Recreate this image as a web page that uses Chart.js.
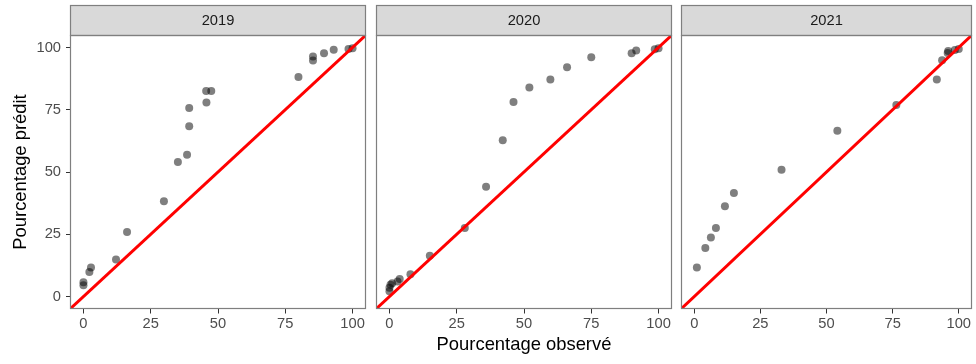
<!DOCTYPE html>
<html>
<head>
<meta charset="utf-8">
<script src="https://cdn.jsdelivr.net/npm/chart.js@4"></script>
<style>
html, body { margin: 0; padding: 0; background: #fff; }
#wrap { position: relative; width: 976px; height: 364px; overflow: hidden; }
canvas { position: absolute; left: 0; top: 0; }
</style>
</head>
<body>
<div id="wrap">
  <canvas id="p0" width="976" height="364"></canvas>
  <canvas id="p1" width="976" height="364"></canvas>
  <canvas id="p2" width="976" height="364"></canvas>
</div>
<script>
// facet labels
const years = ['2019', '2020', '2021'];

const obs2019  = [0, 0, 2.2, 2.8, 12.1, 16.2, 29.9, 35.1, 38.5, 39.3, 39.3, 45.7, 45.6, 47.5, 79.9, 85.3, 85.3, 89.4, 93, 98.5, 100];
const pred2019 = [5.7, 4.5, 9.9, 11.7, 14.9, 25.9, 38.3, 54, 56.9, 68.4, 75.7, 77.9, 82.5, 82.5, 88.1, 96.4, 94.8, 97.7, 99.1, 99.4, 99.7];

const obs2020  = [0, 0, 0.4, 1, 3, 3.8, 7.8, 15, 28, 35.9, 42.1, 46.1, 52, 59.8, 66, 75, 90, 91.7, 98.6, 100];
const pred2020 = [2.1, 3.5, 4.7, 5.3, 6, 7, 9, 16.4, 27.5, 44.1, 62.7, 78.1, 83.9, 87.1, 92.1, 96.1, 97.7, 98.8, 99.3, 99.7];

const obs2021  = [1, 4.2, 6.3, 8.2, 11.6, 15, 33, 54.1, 76.4, 91.7, 93.7, 95.8, 96, 98.5, 100];
const pred2021 = [11.7, 19.5, 23.7, 27.5, 36.3, 41.6, 50.9, 66.6, 76.9, 87.1, 94.9, 97.8, 98.6, 99, 99.4];

const xTicks = [0, 25, 50, 75, 100];
const yTicks = [0, 25, 50, 75, 100];
const axisRange = [-5, 105];   // also the ends of the y = x line

const series = [[obs2019, pred2019], [obs2020, pred2020], [obs2021, pred2021]];

// panel placement on the page
const panelLeft  = [70, 376, 681];
const panelRight = [366, 672, 977];
const FONT = "'Liberation Sans', Arial, sans-serif";

// grey strip on top + frame round the panel
const facetFrame = {
  id: 'facetFrame',
  afterDraw(chart, args, opts) {
    const { ctx, chartArea: a } = chart;
    ctx.save();
    ctx.fillStyle = '#D9D9D9';
    ctx.fillRect(a.left, 5, a.right - a.left, a.top - 5);
    ctx.strokeStyle = '#7F7F7F';
    ctx.lineWidth = 1.2;
    ctx.strokeRect(a.left + 0.5, 5.5, a.right - a.left - 1, a.top - 5);
    ctx.strokeRect(a.left + 0.5, a.top + 0.5, a.right - a.left - 1, a.bottom - a.top - 1);
    ctx.fillStyle = '#1A1A1A';
    ctx.font = '14.7px ' + FONT;
    ctx.textAlign = 'center';
    ctx.textBaseline = 'middle';
    ctx.fillText(opts.label, (a.left + a.right) / 2, (5 + a.top) / 2 + 1);
    ctx.restore();
  }
};

function makePanel(i) {
  const [xs, ys] = series[i];
  const first = i === 0;
  return new Chart(document.getElementById('p' + i), {
    type: 'scatter',
    data: {
      datasets: [
        {
          type: 'line',
          data: axisRange.map(v => ({ x: v, y: v })),
          borderColor: '#FF0000',
          borderWidth: 3,
          pointRadius: 0,
          fill: false
        },
        {
          data: xs.map((x, k) => ({ x, y: ys[k] })),
          backgroundColor: 'rgba(0,0,0,0.5)',
          borderWidth: 0,
          pointRadius: 4
        }
      ]
    },
    options: {
      responsive: false,
      animation: false,
      events: [],
      layout: { padding: { left: first ? 0 : panelLeft[i], right: 976 - panelRight[i], top: 35, bottom: 0 } },
      plugins: {
        legend: { display: false },
        tooltip: { enabled: false },
        facetFrame: { label: years[i] }
      },
      scales: {
        x: {
          type: 'linear',
          min: axisRange[0], max: axisRange[1],
          afterBuildTicks: s => { s.ticks = xTicks.map(v => ({ value: v })); },
          afterFit: s => { s.height = 55; },
          grid: { drawOnChartArea: false, drawTicks: true, tickLength: 4.5, color: '#333333', lineWidth: 1 },
          border: { display: false },
          ticks: { color: '#4D4D4D', font: { family: FONT, size: 14.7 }, padding: 2, maxRotation: 0 },
          title: {
            display: i === 1,
            text: 'Pourcentage observé',
            color: '#000',
            font: { family: FONT, size: 18.4 },
            padding: { top: 0, bottom: 8 }
          }
        },
        y: {
          type: 'linear',
          display: first,
          min: axisRange[0], max: axisRange[1],
          afterBuildTicks: s => { s.ticks = yTicks.map(v => ({ value: v })); },
          afterFit: s => { s.width = first ? 70 : 0; },
          grid: { drawOnChartArea: false, drawTicks: true, tickLength: 4, color: '#333333', lineWidth: 1 },
          border: { display: false },
          ticks: { color: '#4D4D4D', font: { family: FONT, size: 14.7 }, padding: 5 },
          title: {
            display: true,
            text: 'Pourcentage prédit',
            color: '#000',
            font: { family: FONT, size: 18.4 },
            padding: { top: 10, bottom: 0 }
          }
        }
      }
    },
    plugins: [facetFrame]
  });
}

years.forEach((_, i) => makePanel(i));
</script>
</body>
</html>
